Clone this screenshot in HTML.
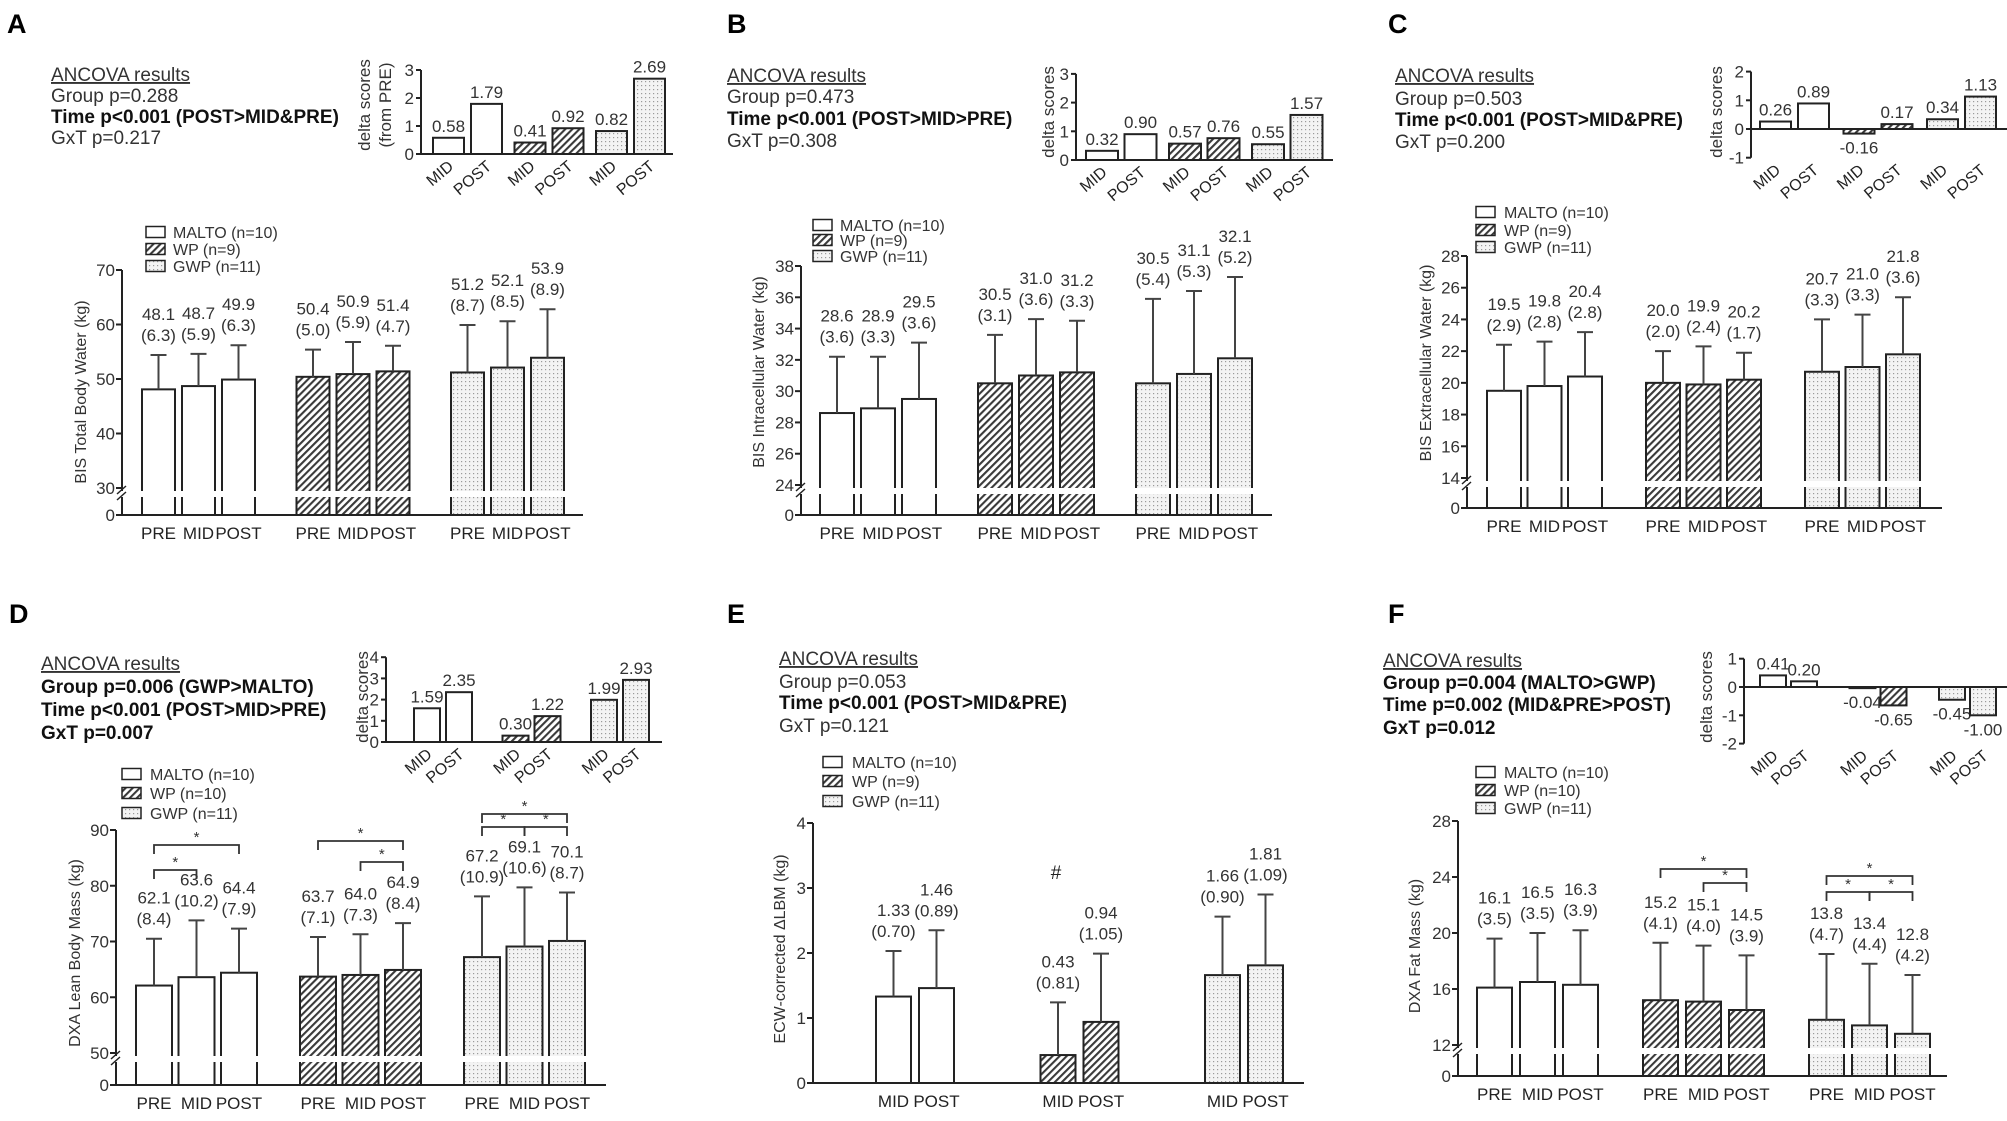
<!DOCTYPE html>
<html><head><meta charset="utf-8"><style>
html,body{margin:0;padding:0;background:#fff}
svg{display:block;font-family:"Liberation Sans",Arial,sans-serif}
</style></head><body>
<svg id="fig" width="2007" height="1121" viewBox="0 0 2007 1121" xmlns="http://www.w3.org/2000/svg">
<defs>
<pattern id="hatch" width="5" height="5" patternUnits="userSpaceOnUse" patternTransform="rotate(45)"><rect width="5" height="5" fill="#fff"/><line x1="1" y1="0" x2="1" y2="5" stroke="#3a3a3a" stroke-width="2.2"/></pattern>
<pattern id="dots" width="4" height="4" patternUnits="userSpaceOnUse"><rect width="4" height="4" fill="#f3f3f3"/><rect x="1" y="1" width="1.2" height="1.2" fill="#9a9a9a"/></pattern>
</defs>
</svg>
<script>
// ---------- DATA ----------
const categories = ['PRE','MID','POST'];
const deltaCategories = ['MID','POST'];
const groupNames = ['MALTO','WP','GWP'];

const aMean = [48.1,48.7,49.9,50.4,50.9,51.4,51.2,52.1,53.9];
const aSD   = [6.3,5.9,6.3,5.0,5.9,4.7,8.7,8.5,8.9];
const aDelta = [0.58,1.79,0.41,0.92,0.82,2.69];
const aTicks = [0,30,40,50,60,70];
const aDeltaTicks = [0,1,2,3];

const bMean = [28.6,28.9,29.5,30.5,31.0,31.2,30.5,31.1,32.1];
const bSD   = [3.6,3.3,3.6,3.1,3.6,3.3,5.4,5.3,5.2];
const bDelta = [0.32,0.90,0.57,0.76,0.55,1.57];
const bTicks = [0,24,26,28,30,32,34,36,38];
const bDeltaTicks = [0,1,2,3];

const cMean = [19.5,19.8,20.4,20.0,19.9,20.2,20.7,21.0,21.8];
const cSD   = [2.9,2.8,2.8,2.0,2.4,1.7,3.3,3.3,3.6];
const cDelta = [0.26,0.89,-0.16,0.17,0.34,1.13];
const cTicks = [0,14,16,18,20,22,24,26,28];
const cDeltaTicks = [-1,0,1,2];

const dMean = [62.1,63.6,64.4,63.7,64.0,64.9,67.2,69.1,70.1];
const dSD   = [8.4,10.2,7.9,7.1,7.3,8.4,10.9,10.6,8.7];
const dDelta = [1.59,2.35,0.30,1.22,1.99,2.93];
const dTicks = [0,50,60,70,80,90];
const dDeltaTicks = [0,1,2,3,4];

const eMean = [1.33,1.46,0.43,0.94,1.66,1.81];
const eSD   = [0.70,0.89,0.81,1.05,0.90,1.09];
const eTicks = [0,1,2,3,4];

const fMean = [16.1,16.5,16.3,15.2,15.1,14.5,13.8,13.4,12.8];
const fSD   = [3.5,3.5,3.9,4.1,4.0,3.9,4.7,4.4,4.2];
const fDelta = [0.41,0.20,-0.04,-0.65,-0.45,-1.00];
const fTicks = [0,12,16,20,24,28];
const fDeltaTicks = [-2,-1,0,1];

// ---------- HELPERS ----------
const NS='http://www.w3.org/2000/svg';
const svg=document.getElementById('fig');
const fills=['#fff','url(#hatch)','url(#dots)'];
function mk(tag,attrs,parent){const el=document.createElementNS(NS,tag);for(const k in attrs)el.setAttribute(k,attrs[k]);(parent||svg).appendChild(el);return el;}
function txt(s,x,y,size,opts,parent){opts=opts||{};const a={x:x,y:y,'font-size':size,fill:opts.fill||'#222','text-anchor':opts.anchor||'start'};if(opts.weight)a['font-weight']=opts.weight;if(opts.transform)a.transform=opts.transform;if(opts.deco)a['text-decoration']=opts.deco;const t=mk('text',a,parent);t.textContent=s;return t;}

function panelText(letter,lx,ly,ax,ays,lines,bold){
  const L=txt(letter,lx,ly,27,{weight:'bold',fill:'#000'});
  
  
  lines.forEach((s,i)=>{
    const t=txt(s,ax,ays[i]+7,19,{weight:bold[i]?'bold':'normal',deco:i===0?'underline':'none',fill:bold[i]?'#111':'#333'});
    
    
  });
}

function legend(bx,ys,tx,labels){
  labels.forEach((s,i)=>{
    const r=mk('rect',{x:bx,y:ys[i]-5.5,width:19,height:11,fill:fills[i],stroke:'#222','stroke-width':1.5});
    
    
    const t=txt(s,tx,ys[i]+6,16,{fill:'#333'});
    
    
  });
}

function mainChart(c,mean,sd,ticks,cats,dec){
  const n=cats.length;
  const yv=v=> v>=c.brk ? c.yBrk-(v-c.brk)*(c.yBrk-c.yTop)/(c.top-c.brk) : c.y0-v*(c.y0-c.yBrk)/c.brk;
  const bx=k=> c.x0+Math.floor(k/n)*c.gstep+(k%n)*c.step;
  mean.forEach((m,k)=>{
    const x=bx(k),g=Math.floor(k/n),cx=x+c.w/2;
    const r=mk('rect',{x:x,y:yv(m),width:c.w,height:c.y0-yv(m),fill:fills[g],stroke:'#222','stroke-width':2});
    
    
    const top=yv(m+sd[k]);
    const e=mk('path',{d:`M${cx},${yv(m)}V${top}M${cx-8},${top}H${cx+8}`,stroke:'#444','stroke-width':2,fill:'none'});
    
    
    const t1=txt(m.toFixed(dec),cx,top-35,17,{anchor:'middle',fill:'#333'});
    
    
    const t2=txt('('+sd[k].toFixed(dec)+')',cx,top-14,17,{anchor:'middle',fill:'#333'});
    
    
    const xl=txt(cats[k%n],cx,c.y0+24,17,{anchor:'middle',fill:'#222'});
    
    
  });
  if(c.brk>0){
    const band=mk('rect',{x:c.ax-3,y:c.yBrk+3,width:c.xEnd-c.ax+3,height:6,fill:'#fff'});
    
    
  }
  const axis=mk('path',{d:`M${c.ax},${c.yTop}V${c.y0}H${c.xEnd}`,stroke:'#222','stroke-width':2,fill:'none'});
  
  
  if(c.brk>0){
    const g=mk('rect',{x:c.ax-3,y:c.yBrk+3,width:6,height:6,fill:'#fff'});
    
    
    const bm=mk('path',{d:`M${c.ax-5},${c.yBrk+6}L${c.ax+4},${c.yBrk-2}M${c.ax-5},${c.yBrk+12}L${c.ax+4},${c.yBrk+4}`,stroke:'#222','stroke-width':1.5});
    
    
  }
  ticks.forEach(t=>{
    const y=yv(t);
    const tk=mk('line',{x1:c.ax-6,x2:c.ax,y1:y,y2:y,stroke:'#222','stroke-width':2});
    
    
    const tl=txt(String(t),c.ax-7,y+6,17,{anchor:'end',fill:'#333'});
    
    
  });
  const at=txt(c.title,0,0,16,{anchor:'middle',fill:'#333',transform:`translate(${c.tx},${c.ty}) rotate(-90)`});
  
  
  return {yv:yv,bx:bx};
}

function brackets(c,s,list){
  list.forEach(b=>{
    const x1=s.bx(b[0])+c.w/2,x2=s.bx(b[1])+c.w/2;
    const p=mk('path',{d:`M${x1},${b[2]+9}V${b[2]}H${x2}V${b[2]+9}`,stroke:'#333','stroke-width':1.8,fill:'none'});
    
    
    const st=txt('*',(x1+x2)/2,b[2]-3,15,{anchor:'middle',fill:'#333'});
    
    
  });
}

function inset(c,vals,ticks,cats){
  const n=cats.length;
  const yv=v=>c.y0-v*c.per;
  const bx=k=>c.x0+Math.floor(k/n)*c.gstep+(k%n)*c.step;
  vals.forEach((v,k)=>{
    const x=bx(k),g=Math.floor(k/n),cx=x+c.w/2;
    const y=Math.min(yv(v),c.y0),h=Math.max(Math.abs(yv(v)-c.y0),1);
    const r=mk('rect',{x:x,y:y,width:c.w,height:h,fill:fills[g],stroke:'#222','stroke-width':2});
    
    
    const ly=v>=0? yv(v)-6 : yv(v)+20;
    const t=txt(v.toFixed(2),cx,ly,17,{anchor:'middle',fill:'#333'});
    
    
    const xl=txt(cats[k%n],cx+6,yv(ticks[0])+14,16,{anchor:'end',fill:'#222',transform:`rotate(-40 ${cx+6} ${yv(ticks[0])+14})`});
    
    
  });
  const ax=mk('path',{d:`M${c.ax},${yv(ticks[ticks.length-1])}V${yv(ticks[0])}M${c.ax},${c.y0}H${c.xEnd}`,stroke:'#222','stroke-width':2,fill:'none'});
  
  
  ticks.forEach(t=>{
    const y=yv(t);
    const tk=mk('line',{x1:c.ax-5,x2:c.ax,y1:y,y2:y,stroke:'#222','stroke-width':2});
    
    
    const tl=txt(String(t),c.ax-7,y+6,17,{anchor:'end',fill:'#333'});
    
    
  });
  c.title.forEach((s,i)=>{
    const x=c.tx+i*21;
    const t=txt(s,0,0,17,{anchor:'middle',fill:'#333',transform:`translate(${x},${c.ty}) rotate(-90)`});
    
    
  });
}

// ---------- PANEL A ----------
panelText('A',7,33,51,[74,95,116,137],['ANCOVA results','Group p=0.288','Time p<0.001 (POST>MID&PRE)','GxT p=0.217'],[0,0,1,0]);
legend(146,[232,249,266],173,['MALTO (n=10)','WP (n=9)','GWP (n=11)']);
const cA={x0:142,w:33,step:40,gstep:154.5,ax:122,xEnd:583,y0:515,yBrk:488,brk:30,yTop:270,top:70,title:'BIS Total Body Water (kg)',tx:86,ty:392};
mainChart(cA,aMean,aSD,aTicks,categories,1);
inset({x0:433,w:31,step:38,gstep:81.5,ax:421,xEnd:673,y0:154,per:28,title:['delta scores','(from PRE)'],tx:370,ty:105},aDelta,aDeltaTicks,deltaCategories);

// ---------- PANEL B ----------
panelText('B',727,33,727,[75,96,118,140],['ANCOVA results','Group p=0.473','Time p<0.001 (POST>MID>PRE)','GxT p=0.308'],[0,0,1,0]);
legend(813,[225,240,256],840,['MALTO (n=10)','WP (n=9)','GWP (n=11)']);
const cB={x0:820,w:34,step:41,gstep:158,ax:801,xEnd:1272,y0:515,yBrk:485,brk:24,yTop:266,top:38,title:'BIS Intracellular Water (kg)',tx:764,ty:372};
mainChart(cB,bMean,bSD,bTicks,categories,1);
inset({x0:1086,w:32,step:38.5,gstep:83,ax:1076,xEnd:1333,y0:160,per:28.7,title:['delta scores'],tx:1054,ty:112},bDelta,bDeltaTicks,deltaCategories);

// ---------- PANEL C ----------
panelText('C',1388,33,1395,[75,98,119,141],['ANCOVA results','Group p=0.503','Time p<0.001 (POST>MID&PRE)','GxT p=0.200'],[0,0,1,0]);
legend(1476,[212,230,247],1504,['MALTO (n=10)','WP (n=9)','GWP (n=11)']);
const cC={x0:1487,w:34,step:40.5,gstep:159,ax:1467,xEnd:1942,y0:508,yBrk:478,brk:14,yTop:256,top:28,title:'BIS Extracellular Water (kg)',tx:1431,ty:363};
mainChart(cC,cMean,cSD,cTicks,categories,1);
inset({x0:1760,w:31,step:38,gstep:83.5,ax:1751,xEnd:2007,y0:129,per:28.7,title:['delta scores'],tx:1722,ty:112},cDelta,cDeltaTicks,deltaCategories);

// ---------- PANEL D ----------
panelText('D',9,623,41,[663,686,709,732],['ANCOVA results','Group p=0.006 (GWP>MALTO)','Time p<0.001 (POST>MID>PRE)','GxT p=0.007'],[0,1,1,1]);
legend(122,[774,793,813],150,['MALTO (n=10)','WP (n=10)','GWP (n=11)']);
const cD={x0:136,w:36,step:42.5,gstep:164,ax:116,xEnd:606,y0:1085,yBrk:1053,brk:50,yTop:830,top:90,title:'DXA Lean Body Mass (kg)',tx:80,ty:953};
const sD=mainChart(cD,dMean,dSD,dTicks,categories,1);
inset({x0:414,w:26,step:32,gstep:88.5,ax:386,xEnd:662,y0:742,per:21.2,title:['delta scores'],tx:368,ty:697},dDelta,dDeltaTicks,deltaCategories);
brackets(cD,sD,[[0,2,845],[0,1,870],[3,5,841],[4,5,862],[6,8,814],[6,7,827],[7,8,827]]);

// ---------- PANEL E ----------
panelText('E',727,623,779,[658,681,702,725],['ANCOVA results','Group p=0.053','Time p<0.001 (POST>MID&PRE)','GxT p=0.121'],[0,0,1,0]);
legend(823,[762,781,801],852,['MALTO (n=10)','WP (n=9)','GWP (n=11)']);
const cE={x0:876,w:35,step:43,gstep:164.5,ax:813,xEnd:1304,y0:1083,yBrk:1083,brk:0,yTop:823,top:4,title:'ECW-corrected \u0394LBM (kg)',tx:785,ty:949};
mainChart(cE,eMean,eSD,eTicks,deltaCategories,2);
const hash=txt('#',1056,879,19,{anchor:'middle',fill:'#222'});



// ---------- PANEL F ----------
panelText('F',1388,623,1383,[660,682,704,727],['ANCOVA results','Group p=0.004 (MALTO>GWP)','Time p=0.002 (MID&PRE>POST)','GxT p=0.012'],[0,1,1,1]);
legend(1476,[772,790,808],1504,['MALTO (n=10)','WP (n=10)','GWP (n=11)']);
const cF={x0:1477,w:35,step:43,gstep:166,ax:1458,xEnd:1947,y0:1076,yBrk:1045,brk:12,yTop:821,top:28,title:'DXA Fat Mass (kg)',tx:1420,ty:946};
const sF=mainChart(cF,fMean,fSD,fTicks,categories,1);
inset({x0:1760,w:26,step:31,gstep:89.5,ax:1744,xEnd:2007,y0:687,per:28.3,title:['delta scores'],tx:1712,ty:697},fDelta,fDeltaTicks,deltaCategories);
brackets(cF,sF,[[3,5,869],[4,5,883],[6,8,876],[6,7,892],[7,8,892]]);
</script>
</body></html>
